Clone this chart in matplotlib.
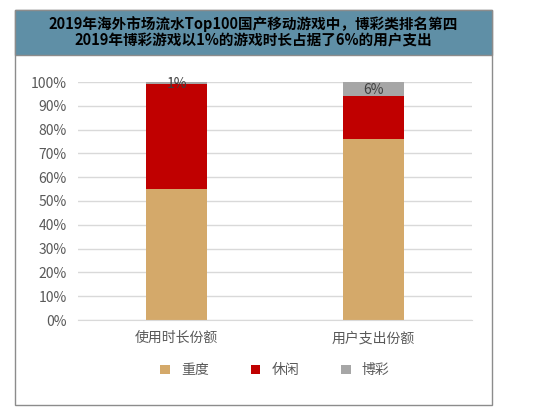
import numpy as np
import matplotlib.pyplot as plt
from matplotlib.patches import Rectangle

plt.rcParams['font.family'] = ['Noto Sans CJK SC', 'DejaVu Sans']

categories = ['使用时长份额', '用户支出份额']
heavy = [55, 76]
casual = [44, 18]
gamble = [1, 6]
gamble_labels = ['1%', '6%']
series_names = ['重度', '休闲', '博彩']
colors = ['#d4a96a', '#c00000', '#a6a6a6']

fig = plt.figure(figsize=(5.35, 4.2), dpi=100)
W, H = 535, 420
# outer frame and title band
fig.patches.append(Rectangle((15 / W, 1 - 405 / H), 477 / W, 395 / H, transform=fig.transFigure,
                             facecolor='white', edgecolor='#8c8c8c', lw=1, zorder=-2))
fig.patches.append(Rectangle((15 / W, 1 - 55 / H), 477 / W, 45 / H, transform=fig.transFigure,
                             facecolor='#5f8fa6', edgecolor='#8c8c8c', lw=1, zorder=-1))
fig.text(253 / W, 1 - 32 / H, '2019年海外市场流水Top100国产移动游戏中，博彩类排名第四\n2019年博彩游戏以1%的游戏时长占据了6%的用户支出',
         ha='center', va='center', fontsize=10.5, fontweight='bold', color='black', linespacing=1.05)

ax = fig.add_axes([78 / W, 1 - 320 / H, (472 - 78) / W, (320 - 82) / H])
ax.set_zorder(1)
ax.patch.set_alpha(0)
x = np.arange(len(categories))
ax.bar(x, heavy, width=0.31, color=colors[0], label=series_names[0])
ax.bar(x, casual, width=0.31, bottom=heavy, color=colors[1], label=series_names[1])
bottoms = [h + c for h, c in zip(heavy, casual)]
ax.bar(x, gamble, width=0.31, bottom=bottoms, color=colors[2], label=series_names[2])
for xi, b, g, lab in zip(x, bottoms, gamble, gamble_labels):
    ax.text(xi, b + g / 2 - 0.5, lab, ha='center', va='center', fontsize=10, color='#404040')

ax.set_xlim(-0.5, 1.5)
ax.set_ylim(0, 100)
ax.set_yticks(range(0, 101, 10))
ax.set_yticklabels([f'{v}%' for v in range(0, 101, 10)], fontsize=10, color='#595959')
ax.set_xticks(x)
ax.set_xticklabels(categories, fontsize=10, color='#595959')
ax.grid(axis='y', color='#d9d9d9', lw=1)
ax.set_axisbelow(True)
for s in ['top', 'right', 'left']:
    ax.spines[s].set_visible(False)
ax.spines['bottom'].set_color('#d9d9d9')
ax.tick_params(length=0, pad=8)
ax.legend(loc='upper center', bbox_to_anchor=(0.5, -0.13), ncol=3, frameon=False,
          fontsize=10, handlelength=0.7, handleheight=0.7, columnspacing=3, labelcolor='#595959')

fig.savefig('out.png', dpi=100)
